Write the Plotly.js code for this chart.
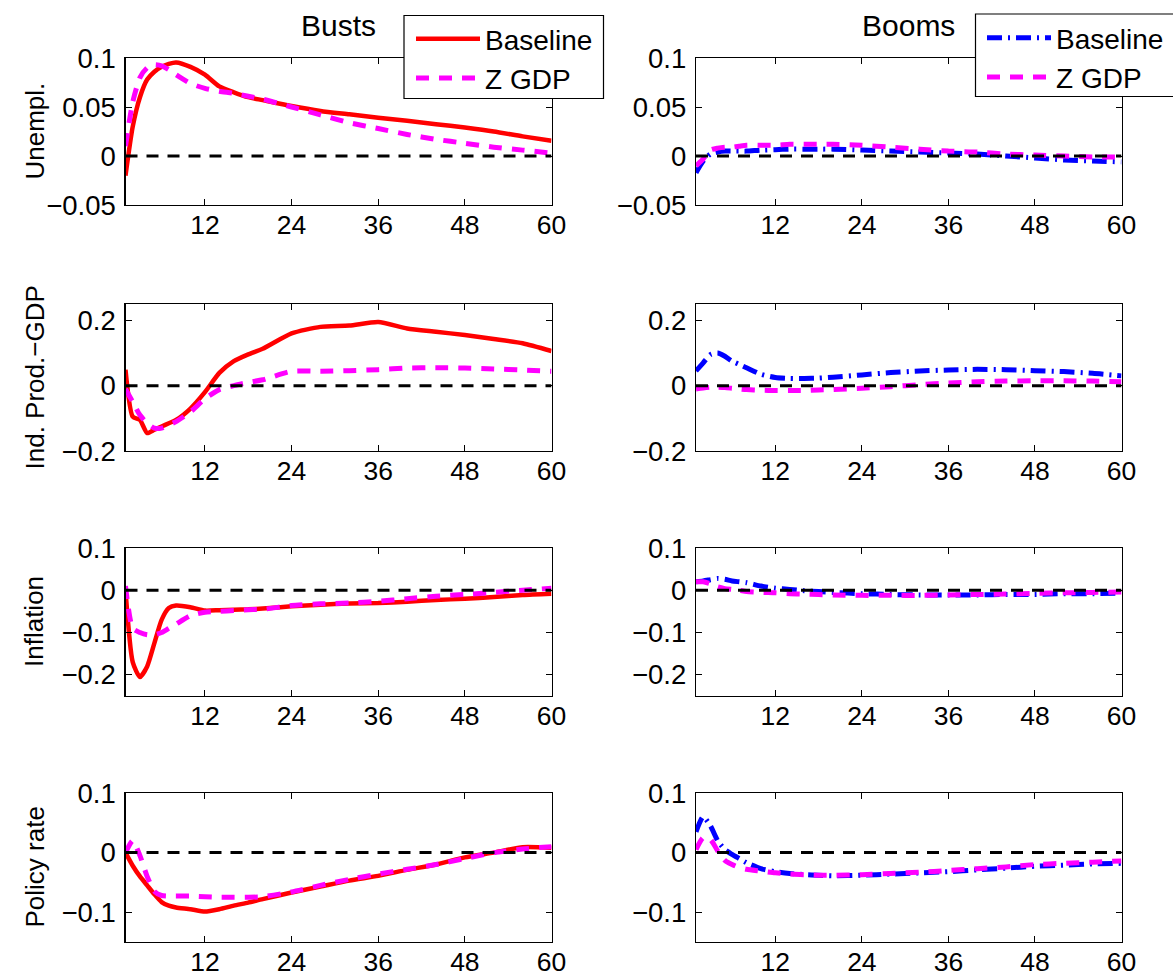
<!DOCTYPE html>
<html>
<head>
<meta charset="utf-8">
<script src="https://cdn.plot.ly/plotly-3.0.1.min.js"></script>
<style>
  html, body { margin: 0; padding: 0; background: #fff; }
  #chart { width: 1173px; height: 979px; }
</style>
</head>
<body>
<div id="chart"></div>
<script>
// Horizon in months
const months = [1, 2, 3, 4, 5, 6, 7, 8, 10, 12, 14, 16, 18, 20, 24, 28, 32, 36, 40, 44, 48, 52, 56, 60];

// Busts: impulse responses
const bustUnempBase = [-0.02, 0.03, 0.06, 0.078, 0.086, 0.091, 0.094, 0.0955, 0.091, 0.083, 0.071, 0.065, 0.060, 0.057, 0.051, 0.046, 0.0425, 0.039, 0.036, 0.0325, 0.029, 0.025, 0.020, 0.0155];
const bustUnempZ    = [0.01, 0.055, 0.08, 0.09, 0.093, 0.092, 0.088, 0.083, 0.074, 0.069, 0.066, 0.064, 0.061, 0.058, 0.050, 0.042, 0.034, 0.028, 0.022, 0.017, 0.013, 0.009, 0.006, 0.003];
const bustIPBase    = [0.049, -0.095, -0.105, -0.145, -0.135, -0.125, -0.115, -0.105, -0.07, -0.02, 0.039, 0.075, 0.096, 0.113, 0.16, 0.18, 0.184, 0.195, 0.175, 0.165, 0.155, 0.143, 0.13, 0.106];
const bustIPZ       = [-0.01, -0.05, -0.09, -0.115, -0.13, -0.13, -0.12, -0.11, -0.08, -0.04, -0.012, 0.0, 0.01, 0.018, 0.044, 0.044, 0.046, 0.049, 0.054, 0.055, 0.054, 0.051, 0.048, 0.044];
const bustInflBase  = [0.0, -0.17, -0.205, -0.18, -0.125, -0.07, -0.042, -0.036, -0.04, -0.048, -0.047, -0.046, -0.045, -0.043, -0.038, -0.034, -0.031, -0.03, -0.027, -0.023, -0.02, -0.016, -0.011, -0.008];
const bustInflZ     = [0.01, -0.09, -0.10, -0.105, -0.105, -0.10, -0.09, -0.08, -0.06, -0.052, -0.05, -0.048, -0.046, -0.045, -0.036, -0.032, -0.03, -0.026, -0.02, -0.014, -0.01, -0.005, 0.0, 0.005];
const bustRateBase  = [0.0, -0.022, -0.04, -0.055, -0.07, -0.083, -0.089, -0.092, -0.095, -0.099, -0.095, -0.089, -0.084, -0.078, -0.067, -0.057, -0.047, -0.039, -0.029, -0.02, -0.008, 0.0, 0.009, 0.008];
const bustRateZ     = [0.0, 0.02, -0.005, -0.04, -0.065, -0.072, -0.073, -0.073, -0.073, -0.074, -0.075, -0.075, -0.075, -0.074, -0.066, -0.055, -0.045, -0.036, -0.028, -0.02, -0.01, 0.0, 0.006, 0.01];

// Booms: impulse responses
const boomUnempBase = [-0.017, -0.005, 0.002, 0.004, 0.005, 0.005, 0.005, 0.005, 0.006, 0.0065, 0.007, 0.007, 0.007, 0.007, 0.006, 0.005, 0.004, 0.003, 0.002, 0.0, -0.002, -0.004, -0.005, -0.006];
const boomUnempZ    = [-0.01, -0.003, 0.006, 0.008, 0.009, 0.009, 0.010, 0.011, 0.011, 0.011, 0.012, 0.012, 0.012, 0.012, 0.011, 0.009, 0.007, 0.005, 0.004, 0.002, 0.001, 0.0, -0.001, -0.001];
const boomIPBase    = [0.045, 0.07, 0.095, 0.10, 0.09, 0.075, 0.065, 0.055, 0.035, 0.025, 0.022, 0.022, 0.023, 0.026, 0.033, 0.04, 0.045, 0.048, 0.05, 0.049, 0.046, 0.043, 0.038, 0.03];
const boomIPZ       = [-0.01, -0.007, -0.005, -0.005, -0.006, -0.008, -0.01, -0.012, -0.014, -0.015, -0.015, -0.015, -0.013, -0.012, -0.008, -0.003, 0.003, 0.008, 0.012, 0.014, 0.015, 0.015, 0.014, 0.012];
const boomInflBase  = [0.02, 0.022, 0.025, 0.028, 0.026, 0.022, 0.02, 0.018, 0.01, 0.005, 0.002, -0.001, -0.003, -0.005, -0.008, -0.01, -0.011, -0.011, -0.011, -0.01, -0.01, -0.008, -0.008, -0.007];
const boomInflZ     = [0.02, 0.02, 0.015, 0.008, 0.004, 0.002, 0.0, -0.003, -0.005, -0.006, -0.008, -0.009, -0.010, -0.011, -0.012, -0.012, -0.012, -0.011, -0.01, -0.009, -0.007, -0.006, -0.005, -0.004];
const boomRateBase  = [0.035, 0.06, 0.045, 0.02, 0.005, -0.003, -0.01, -0.017, -0.027, -0.032, -0.035, -0.037, -0.038, -0.039, -0.038, -0.036, -0.034, -0.032, -0.029, -0.026, -0.023, -0.021, -0.019, -0.018];
const boomRateZ     = [0.005, 0.025, 0.022, 0.003, -0.013, -0.02, -0.025, -0.028, -0.031, -0.034, -0.036, -0.037, -0.038, -0.038, -0.037, -0.035, -0.033, -0.03, -0.027, -0.024, -0.02, -0.018, -0.016, -0.014];

const zeroLine = months.map(() => 0);

// Labels
const columnTitles = ['Busts', 'Booms'];
const rowLabels = ['Unempl.', 'Ind. Prod.\u2212GDP', 'Inflation', 'Policy rate'];
const seriesNames = ['Baseline', 'Z GDP'];
const xTickVals = [12, 24, 36, 48, 60];
const yTickVals = [
  [-0.05, 0, 0.05, 0.1],
  [-0.2, 0, 0.2],
  [-0.2, -0.1, 0, 0.1],
  [-0.1, 0, 0.1]
];
const yTickText = [
  ['\u22120.05', '0', '0.05', '0.1'],
  ['\u22120.2', '0', '0.2'],
  ['\u22120.2', '\u22120.1', '0', '0.1'],
  ['\u22120.1', '0', '0.1']
];
const yRanges = [[-0.05, 0.1], [-0.2, 0.25], [-0.25, 0.1], [-0.15, 0.1]];

const bustSeries = [[bustUnempBase, bustUnempZ], [bustIPBase, bustIPZ], [bustInflBase, bustInflZ], [bustRateBase, bustRateZ]];
const boomSeries = [[boomUnempBase, boomUnempZ], [boomIPBase, boomIPZ], [boomInflBase, boomInflZ], [boomRateBase, boomRateZ]];

// Geometry (pixels in a 1173 x 979 page)
const W = 1173, H = 979;
const colPx = [[125.5, 551.5], [696, 1121.5]];
const rowPx = [[58, 205], [304, 451], [548, 696], [793, 942]];
// Legend frames: [left, right, top, bottom]
const legendBoxPx = [[404, 603.5, 15.5, 98.5], [975.5, 1180, 14, 96.5]];

const FONT = 'Liberation Sans, Arial, Helvetica, sans-serif';

const baseStyle = [
  { color: '#ff0000', width: 4.5, dash: 'solid', shape: 'spline', smoothing: 0.6 },
  { color: '#0000ff', width: 5, dash: '15px,6px,2px,6px', shape: 'spline', smoothing: 0.6 }
];
const zStyle = { color: '#ff00ff', width: 5, dash: '13px,10px', shape: 'spline', smoothing: 0.6 };
const zeroStyle = { color: '#000000', width: 3, dash: '12px,9px' };

const legendCommon = {
  xanchor: 'left', yanchor: 'top',
  bgcolor: 'rgba(0,0,0,0)', borderwidth: 0,
  font: { size: 28, family: FONT, color: '#000' }, itemwidth: 64, tracegroupgap: 0
};

const traces = [];
const layout = {
  width: W, height: H,
  margin: { l: 0, r: 0, t: 0, b: 0, autoexpand: false },
  paper_bgcolor: '#fff', plot_bgcolor: '#fff',
  font: { family: FONT, color: '#000' },
  annotations: [],
  shapes: legendBoxPx.map(b => ({
    type: 'rect', xref: 'paper', yref: 'paper', layer: 'above',
    x0: b[0] / W, x1: b[1] / W, y0: 1 - b[3] / H, y1: 1 - b[2] / H,
    fillcolor: '#fff', line: { color: '#000', width: 1.2 }
  })),
  legend: Object.assign({ x: (legendBoxPx[0][0] + 7) / W, y: 1 - 14 / H }, legendCommon),
  legend2: Object.assign({ x: (legendBoxPx[1][0] + 6.5) / W, y: 1 - 13 / H }, legendCommon)
};

let k = 0;
for (let c = 0; c < 2; c++) {
  const series = c === 0 ? bustSeries : boomSeries;
  for (let r = 0; r < 4; r++) {
    k++;
    const xa = k === 1 ? 'x' : 'x' + k;
    const ya = k === 1 ? 'y' : 'y' + k;
    const xKey = k === 1 ? 'xaxis' : 'xaxis' + k;
    const yKey = k === 1 ? 'yaxis' : 'yaxis' + k;
    const showLeg = r === 0;
    const legendId = c === 0 ? 'legend' : 'legend2';

    traces.push({
      type: 'scatter', mode: 'lines', x: months, y: series[r][0], xaxis: xa, yaxis: ya,
      name: seriesNames[0], showlegend: showLeg, legend: legendId, legendgroup: 'b' + c,
      line: baseStyle[c], hoverinfo: 'skip'
    });
    traces.push({
      type: 'scatter', mode: 'lines', x: months, y: series[r][1], xaxis: xa, yaxis: ya,
      name: seriesNames[1], showlegend: showLeg, legend: legendId, legendgroup: 'z' + c,
      line: zStyle, hoverinfo: 'skip'
    });
    traces.push({
      type: 'scatter', mode: 'lines', x: months, y: zeroLine, xaxis: xa, yaxis: ya,
      showlegend: false, line: zeroStyle, hoverinfo: 'skip'
    });

    const common = {
      showgrid: false, zeroline: false, showline: true, linecolor: '#000', linewidth: 1.2,
      mirror: 'ticks', ticks: 'inside', ticklen: 6, tickwidth: 1, tickcolor: '#000',
      fixedrange: true
    };
    layout[xKey] = Object.assign({}, common, {
      domain: [colPx[c][0] / W, colPx[c][1] / W],
      range: [1, 60], tickmode: 'array', tickvals: xTickVals, anchor: ya,
      tickfont: { size: 26.5, family: FONT, color: '#000' },
      ticklabelstandoff: -4
    });
    layout[yKey] = Object.assign({}, common, {
      domain: [1 - rowPx[r][1] / H, 1 - rowPx[r][0] / H],
      range: yRanges[r], tickmode: 'array', tickvals: yTickVals[r], ticktext: yTickText[r],
      tickfont: { size: 27.5, family: FONT, color: '#000' },
      anchor: xa, ticklabelstandoff: 3
    });

    if (c === 0) {
      layout.annotations.push({
        text: rowLabels[r], xref: 'paper', yref: 'paper',
        x: 34 / W, y: 1 - (rowPx[r][0] + rowPx[r][1]) / 2 / H,
        xanchor: 'center', yanchor: 'middle', textangle: -90, showarrow: false,
        font: { size: 26, family: FONT, color: '#000' }
      });
    }
    if (r === 0) {
      layout.annotations.push({
        text: columnTitles[c], xref: 'paper', yref: 'paper',
        x: (colPx[c][0] + colPx[c][1]) / 2 / W, y: 1 - 25 / H,
        xanchor: 'center', yanchor: 'middle', showarrow: false,
        font: { size: 30, family: FONT, color: '#000' }
      });
    }
  }
}

Plotly.newPlot('chart', traces, layout, { staticPlot: true, displayModeBar: false });
</script>
</body>
</html>
